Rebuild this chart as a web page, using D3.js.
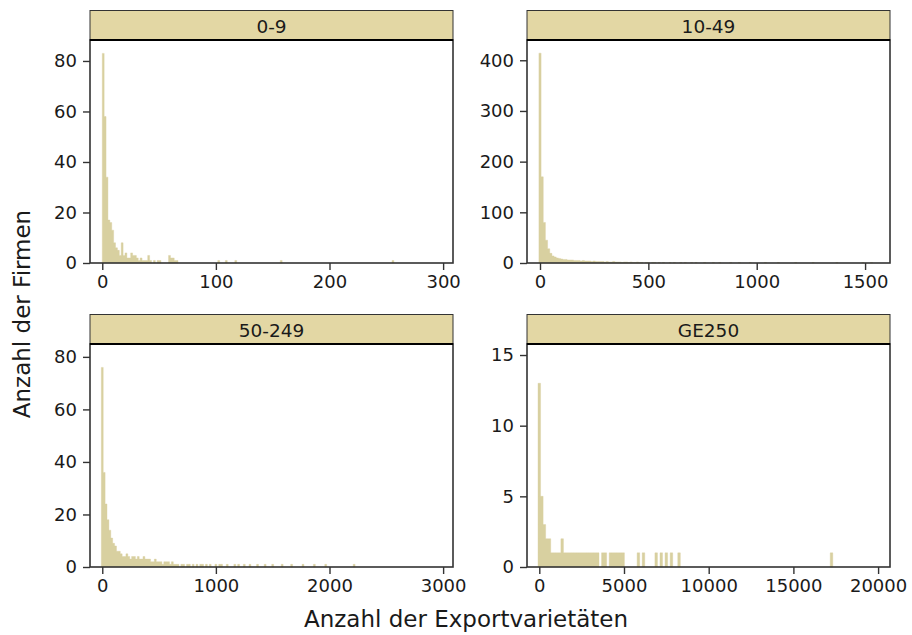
<!DOCTYPE html>
<html>
<head>
<meta charset="utf-8">
<script src="https://cdn.jsdelivr.net/npm/d3@7"></script>
<style>
  html, body { margin: 0; padding: 0; background: #fff; }
  svg { display: block; font-family: "DejaVu Sans", sans-serif; }
</style>
</head>
<body>
<svg id="chart" width="912" height="635"></svg>
<script>
// ---------- data ----------
const stripLabels = ["0-9", "10-49", "50-249", "GE250"];
const xTitle = "Anzahl der Exportvarietäten";
const yTitle = "Anzahl der Firmen";

// bin widths (in data units) and bin origin per panel
const binWidths = [5 / 3, 10, 50 / 3, 150];
const binOrigins = [0, -5, -25 / 3, -75];

// Panel "0-9": bin index and firm count
const p1Bin   = [0,1,2,3,4,5,6,7,8,9,10,11,12,13,14,15,16,17,18,19,20,21,22,23,24,25,27,29,30,35,36,37,38,39,61,65,70,94,153];
const p1Count = [83,58,34,17,16,13,8,6,5,3,8,3,4,2,2,4,3,3,2,1,2,1,1,1,3,1,1,1,1,3,2,2,1,1,1,1,1,1,1];

// Panel "10-49"
const p2Bin   = [0,1,2,3,4,5,6,7,8,9,10,11,12,13,14,15,16,17,18,19,20,21,22,23,24,25,26,27,28,29,30,31,32,33,34,35,36,37,38,39,40,41,42,43,44,45,46,47,49,50,52,53,55,57,60,62,65,67,70,72,76,80,83,88,92,97,104,110,118,126,137,149,153];
const p2Count = [414,170,80,45,28,19,14,12,10,9,8,7,7,6,6,6,5,5,5,4,5,4,4,4,3,4,3,3,3,3,2,3,2,2,3,2,2,2,1,2,2,1,2,1,1,2,1,1,1,1,1,1,1,1,1,1,1,1,1,1,1,1,1,1,1,1,1,1,1,1,1,1,1];

// Panel "50-249"
const p3Bin   = [0,1,2,3,4,5,6,7,8,9,10,11,12,13,14,15,16,17,18,19,20,21,22,23,24,25,26,27,28,29,30,31,32,33,34,35,36,37,38,39,40,42,43,45,46,48,50,52,53,55,57,60,62,63,66,70,72,75,78,82,86,90,95,100,106,112,118,133];
const p3Count = [76,36,24,18,14,11,9,8,6,6,5,4,4,5,4,3,4,4,3,4,3,3,4,3,3,3,2,2,3,2,2,2,1,2,2,2,1,2,1,1,1,1,1,1,1,1,1,1,1,1,1,1,1,1,1,1,1,1,1,1,1,1,1,1,1,1,1,1];

// Panel "GE250"
const p4Bin   = [0,1,2,3,4,5,6,7,8,9,10,11,12,13,14,15,16,17,18,19,20,21,22,23,25,26,28,29,30,31,32,33,39,41,46,48,50,52,55,115];
const p4Count = [13,5,3,2,2,1,1,1,1,2,1,1,1,1,1,1,1,1,1,1,1,1,1,1,1,1,1,1,1,1,1,1,1,1,1,1,1,1,1,1];

// tick values
const p1XTicks = [0, 100, 200, 300],          p1YTicks = [0, 20, 40, 60, 80];
const p2XTicks = [0, 500, 1000, 1500],        p2YTicks = [0, 100, 200, 300, 400];
const p3XTicks = [0, 1000, 2000, 3000],       p3YTicks = [0, 20, 40, 60, 80];
const p4XTicks = [0, 5000, 10000, 15000, 20000], p4YTicks = [0, 5, 10, 15];

// ---------- layout ----------
const barColor = "#d8d0a0";
const stripColor = "#e3d7a4";
const ink = "#1a1a1a";
const frameColor = "#333333";

const panels = [
  { label: stripLabels[0], bins: p1Bin, counts: p1Count, bw: binWidths[0], b0: binOrigins[0],
    xDomain: [-10.8, 308.7], yMax: 88.3, xTicks: p1XTicks, yTicks: p1YTicks,
    box: { x: 90, y: 40, w: 363, h: 223 } },
  { label: stripLabels[1], bins: p2Bin, counts: p2Count, bw: binWidths[1], b0: binOrigins[1],
    xDomain: [-60, 1615], yMax: 440, xTicks: p2XTicks, yTicks: p2YTicks,
    box: { x: 527, y: 40, w: 363, h: 223 } },
  { label: stripLabels[2], bins: p3Bin, counts: p3Count, bw: binWidths[2], b0: binOrigins[2],
    xDomain: [-108, 3087], yMax: 84.9, xTicks: p3XTicks, yTicks: p3YTicks,
    box: { x: 90, y: 344, w: 363, h: 223 } },
  { label: stripLabels[3], bins: p4Bin, counts: p4Count, bw: binWidths[3], b0: binOrigins[3],
    xDomain: [-726, 20703], yMax: 15.78, xTicks: p4XTicks, yTicks: p4YTicks,
    box: { x: 527, y: 344, w: 363, h: 223 } }
];

const svg = d3.select("#chart");
const stripH = 29.5;

panels.forEach(p => {
  const b = p.box;
  const x = d3.scaleLinear().domain(p.xDomain).range([b.x, b.x + b.w]);
  const y = d3.scaleLinear().domain([0, p.yMax]).range([b.y + b.h, b.y]);
  const g = svg.append("g");

  // bars: group adjacent bins into runs, each run drawn as one step outline (no seams)
  const runs = [];
  p.bins.forEach((k, i) => {
    const last = runs[runs.length - 1];
    if (last && last[last.length - 1].k === k - 1) last.push({ k, n: p.counts[i] });
    else runs.push([{ k, n: p.counts[i] }]);
  });
  const path = d3.path();
  runs.forEach(run => {
    const xs = k => x(p.b0 + k * p.bw);
    const first = run[0].k, lastK = run[run.length - 1].k;
    path.moveTo(xs(first), y(0));
    run.forEach(d => {
      path.lineTo(xs(d.k), y(d.n));
      path.lineTo(xs(d.k + 1), y(d.n));
    });
    path.lineTo(xs(lastK + 1), y(0));
    path.closePath();
  });
  g.append("path").attr("d", path.toString()).attr("fill", barColor)
    .attr("stroke", barColor).attr("stroke-width", 0.4).attr("stroke-linejoin", "miter");

  // frame
  g.append("rect")
    .attr("x", b.x).attr("y", b.y).attr("width", b.w).attr("height", b.h)
    .attr("fill", "none").attr("stroke", frameColor).attr("stroke-width", 1.6);

  // strip
  g.append("rect")
    .attr("x", b.x).attr("y", b.y - stripH).attr("width", b.w).attr("height", stripH)
    .attr("fill", stripColor).attr("stroke", frameColor).attr("stroke-width", 1);
  g.append("line")
    .attr("x1", b.x).attr("x2", b.x + b.w).attr("y1", b.y).attr("y2", b.y)
    .attr("stroke", "#000").attr("stroke-width", 2.2);
  g.append("text")
    .attr("x", b.x + b.w / 2).attr("y", b.y - stripH / 2 + 1)
    .attr("text-anchor", "middle").attr("dominant-baseline", "central")
    .attr("font-size", 18.5).attr("fill", ink)
    .text(p.label);

  // axes
  const xa = g.append("g").attr("transform", `translate(0,${b.y + b.h})`)
    .call(d3.axisBottom(x).tickValues(p.xTicks).tickSize(7).tickPadding(5).tickFormat(d3.format("d")));
  const ya = g.append("g").attr("transform", `translate(${b.x},0)`)
    .call(d3.axisLeft(y).tickValues(p.yTicks).tickSize(7).tickPadding(6).tickFormat(d3.format("d")));
  [xa, ya].forEach(a => {
    a.select(".domain").remove();
    a.selectAll(".tick line").attr("stroke", frameColor).attr("stroke-width", 1.4);
    a.selectAll(".tick text").attr("fill", ink).attr("font-size", 18)
      .attr("font-family", "DejaVu Sans, sans-serif");
  });
});

// axis titles
svg.append("text")
  .attr("x", 466).attr("y", 627)
  .attr("text-anchor", "middle").attr("font-size", 23).attr("fill", ink)
  .text(xTitle);
svg.append("text")
  .attr("transform", "translate(30,314) rotate(-90)")
  .attr("text-anchor", "middle").attr("font-size", 23).attr("fill", ink)
  .text(yTitle);
</script>
</body>
</html>
